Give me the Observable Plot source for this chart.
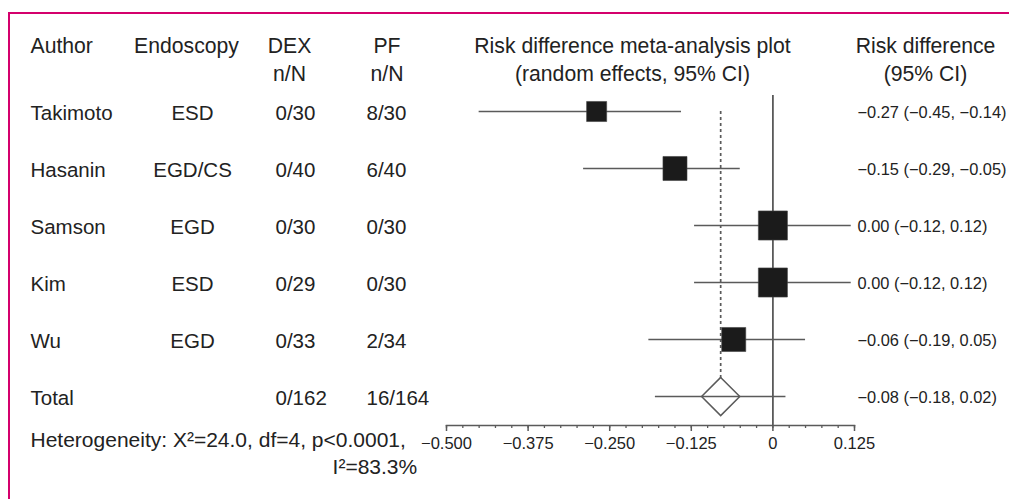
<!DOCTYPE html>
<html>
<head>
<meta charset="utf-8">
<script src="https://cdn.jsdelivr.net/npm/d3@7"></script>
<script src="https://cdn.jsdelivr.net/npm/@observablehq/plot@0.6"></script>
<style>
  html, body { margin: 0; padding: 0; background: #fff; }
  #wrap { position: relative; width: 1009px; height: 499px; overflow: hidden; }
  #border { position: absolute; left: 8px; top: 12px; right: -4px; bottom: -4px;
            border-top: 2px solid #d4006c; border-left: 2px solid #d4006c; pointer-events: none; }
  #chart { position: absolute; left: 0; top: 0; }
</style>
</head>
<body>
<div id="wrap"><div id="chart"></div><div id="border"></div></div>
<script>
// ---- data ----
const authors   = ["Takimoto", "Hasanin", "Samson", "Kim", "Wu"];
const endoscopy = ["ESD", "EGD/CS", "EGD", "ESD", "EGD"];
const dexNN     = ["0/30", "0/40", "0/30", "0/29", "0/33"];
const pfNN      = ["8/30", "6/40", "0/30", "0/30", "2/34"];
const rd        = [-0.27, -0.15, 0.00, 0.00, -0.06];
const ciLow     = [-0.45, -0.29, -0.12, -0.12, -0.19];
const ciHigh    = [-0.14, -0.05, 0.12, 0.12, 0.05];
const weights   = [12.4, 17.8, 26, 26, 17.8];   // estimated study weights (%), from box sizes

const totalLabel = "Total";
const totalDex = "0/162";
const totalPf = "16/164";
const totalRd = -0.08;
const totalLow = -0.18;
const totalHigh = 0.02;

const majorTicks = [-0.5, -0.375, -0.25, -0.125, 0, 0.125];
const majorTickLabels = ["\u22120.500", "\u22120.375", "\u22120.250", "\u22120.125", "0", "0.125"];
const minorTicks = d3.range(-0.5, 0.1251, 0.025);

const heterogeneity1 = "Heterogeneity: X\u00b2=24.0, df=4, p<0.0001,";
const heterogeneity2 = "I\u00b2=83.3%";

const headers = [
  {text: "Author", col: "author"},
  {text: "Endoscopy", col: "endo"},
  {text: "DEX\nn/N", col: "dex"},
  {text: "PF\nn/N", col: "pf"},
  {text: "Risk difference meta-analysis plot\n(random effects, 95% CI)", col: "plot"},
  {text: "Risk difference\n(95% CI)", col: "rd"}
];

// ---- table built from the arrays ----
const fmt = d3.format(".2f");
const studies = authors.map((a, i) => ({
  author: a, endo: endoscopy[i], dex: dexNN[i], pf: pfNN[i],
  rd: rd[i], lo: ciLow[i], hi: ciHigh[i], w: weights[i],
  label: `${fmt(rd[i])} (${fmt(ciLow[i])}, ${fmt(ciHigh[i])})`
}));
const total = {author: totalLabel, endo: "", dex: totalDex, pf: totalPf, rd: totalRd, lo: totalLow, hi: totalHigh,
  label: `${fmt(totalRd)} (${fmt(totalLow)}, ${fmt(totalHigh)})`};
const rows = [...studies, total];

const FONT = "'Liberation Sans', Arial, Helvetica, sans-serif";
const TXT = "#222";
const LINE = "#5a5a5a";
const BIG = 20.5;
const HEAD = 21.2;
const TDY = 1.5;

const hdr = (col) => headers.filter(h => h.col === col);

const chart = Plot.plot({
  width: 1009,
  height: 499,
  marginLeft: 446,
  marginRight: 155,
  marginTop: 95,
  marginBottom: 74,
  style: {fontFamily: FONT, fontSize: BIG + "px", color: TXT, background: "transparent", overflow: "visible"},
  x: {domain: [-0.5, 0.125], axis: null},
  y: {type: "point", domain: rows.map(d => d.author), range: [110.5, 397], padding: 0, axis: null},
  r: {type: "sqrt", domain: [0, 26], range: [0, 16.4]},
  marks: [
    // axis line + ticks
    Plot.frame({anchor: "bottom", stroke: LINE, strokeWidth: 1.5}),
    Plot.axisX(minorTicks, {anchor: "bottom", tickSize: 3, tickFormat: () => "", label: null, stroke: LINE, strokeWidth: 1.3}),
    Plot.axisX(majorTicks, {anchor: "bottom", tickSize: 6, tickPadding: 6, label: null, stroke: LINE, strokeWidth: 1.5,
      tickFormat: (d) => majorTickLabels[majorTicks.indexOf(d)], fontSize: 16.5, fill: TXT}),
    // study CI lines
    Plot.ruleY(studies, {y: "author", x1: "lo", x2: "hi", stroke: LINE, strokeWidth: 1.5}),
    // pooled estimate dotted line
    Plot.ruleX([total], {x: "rd", y1: () => authors[0], y2: () => totalLabel, stroke: LINE, strokeWidth: 1.7, strokeDasharray: "3,3"}),
    // zero line
    Plot.ruleX([0], {stroke: LINE, strokeWidth: 1.8}),
    // study boxes
    Plot.dot(studies, {x: "rd", y: "author", r: "w", symbol: "square", fill: "#1b1b1b", stroke: "#444", strokeWidth: 0.6}),
    // pooled diamond and its CI
    Plot.dot([total], {x: "rd", y: "author", r: 17.2, symbol: "diamond2", fill: "#fff", stroke: LINE, strokeWidth: 1.5}),
    Plot.ruleY([total], {y: "author", x1: "lo", x2: "hi", stroke: LINE, strokeWidth: 1.5}),
    // table columns
    Plot.text(rows, {y: "author", text: "author", frameAnchor: "left", dx: -416, dy: TDY, textAnchor: "start", fill: TXT, fontSize: BIG}),
    Plot.text(studies, {y: "author", text: "endo", frameAnchor: "left", dx: -254, dy: TDY, textAnchor: "middle", fill: TXT, fontSize: BIG}),
    Plot.text(rows, {y: "author", text: "dex", frameAnchor: "left", dx: -171, dy: TDY, textAnchor: "start", fill: TXT, fontSize: BIG}),
    Plot.text(rows, {y: "author", text: "pf", frameAnchor: "left", dx: -80, dy: TDY, textAnchor: "start", fill: TXT, fontSize: BIG}),
    Plot.text(rows, {y: "author", text: "label", frameAnchor: "right", dx: 3, dy: TDY, textAnchor: "start", fill: TXT, fontSize: 16.4}),
    // headers
    Plot.text(hdr("author"), {text: "text", frameAnchor: "top-left", dx: -416, dy: -43, textAnchor: "start", lineAnchor: "bottom", fill: TXT, fontSize: HEAD}),
    Plot.text(hdr("endo"), {text: "text", frameAnchor: "top-left", dx: -260, dy: -43, textAnchor: "middle", lineAnchor: "bottom", fill: TXT, fontSize: HEAD}),
    Plot.text(hdr("dex"), {text: "text", frameAnchor: "top-left", dx: -157, dy: -15, textAnchor: "middle", lineAnchor: "bottom", lineHeight: 1.32, fill: TXT, fontSize: HEAD}),
    Plot.text(hdr("pf"), {text: "text", frameAnchor: "top-left", dx: -59.5, dy: -15, textAnchor: "middle", lineAnchor: "bottom", lineHeight: 1.32, fill: TXT, fontSize: HEAD}),
    Plot.text(hdr("plot"), {text: "text", frameAnchor: "top", dx: -18, dy: -15, textAnchor: "middle", lineAnchor: "bottom", lineHeight: 1.32, fill: TXT, fontSize: HEAD}),
    Plot.text(hdr("rd"), {text: "text", frameAnchor: "top-right", dx: 71, dy: -15, textAnchor: "middle", lineAnchor: "bottom", lineHeight: 1.32, fill: TXT, fontSize: HEAD}),
    // heterogeneity note
    Plot.text([heterogeneity1], {text: d => d, frameAnchor: "bottom-left", dx: -416, dy: 21, textAnchor: "start", fill: TXT, fontSize: 21}),
    Plot.text([heterogeneity2], {text: d => d, frameAnchor: "bottom-left", dx: -29.3, dy: 48, textAnchor: "end", fill: TXT, fontSize: 21})
  ]
});
document.getElementById("chart").appendChild(chart);
</script>
</body>
</html>
